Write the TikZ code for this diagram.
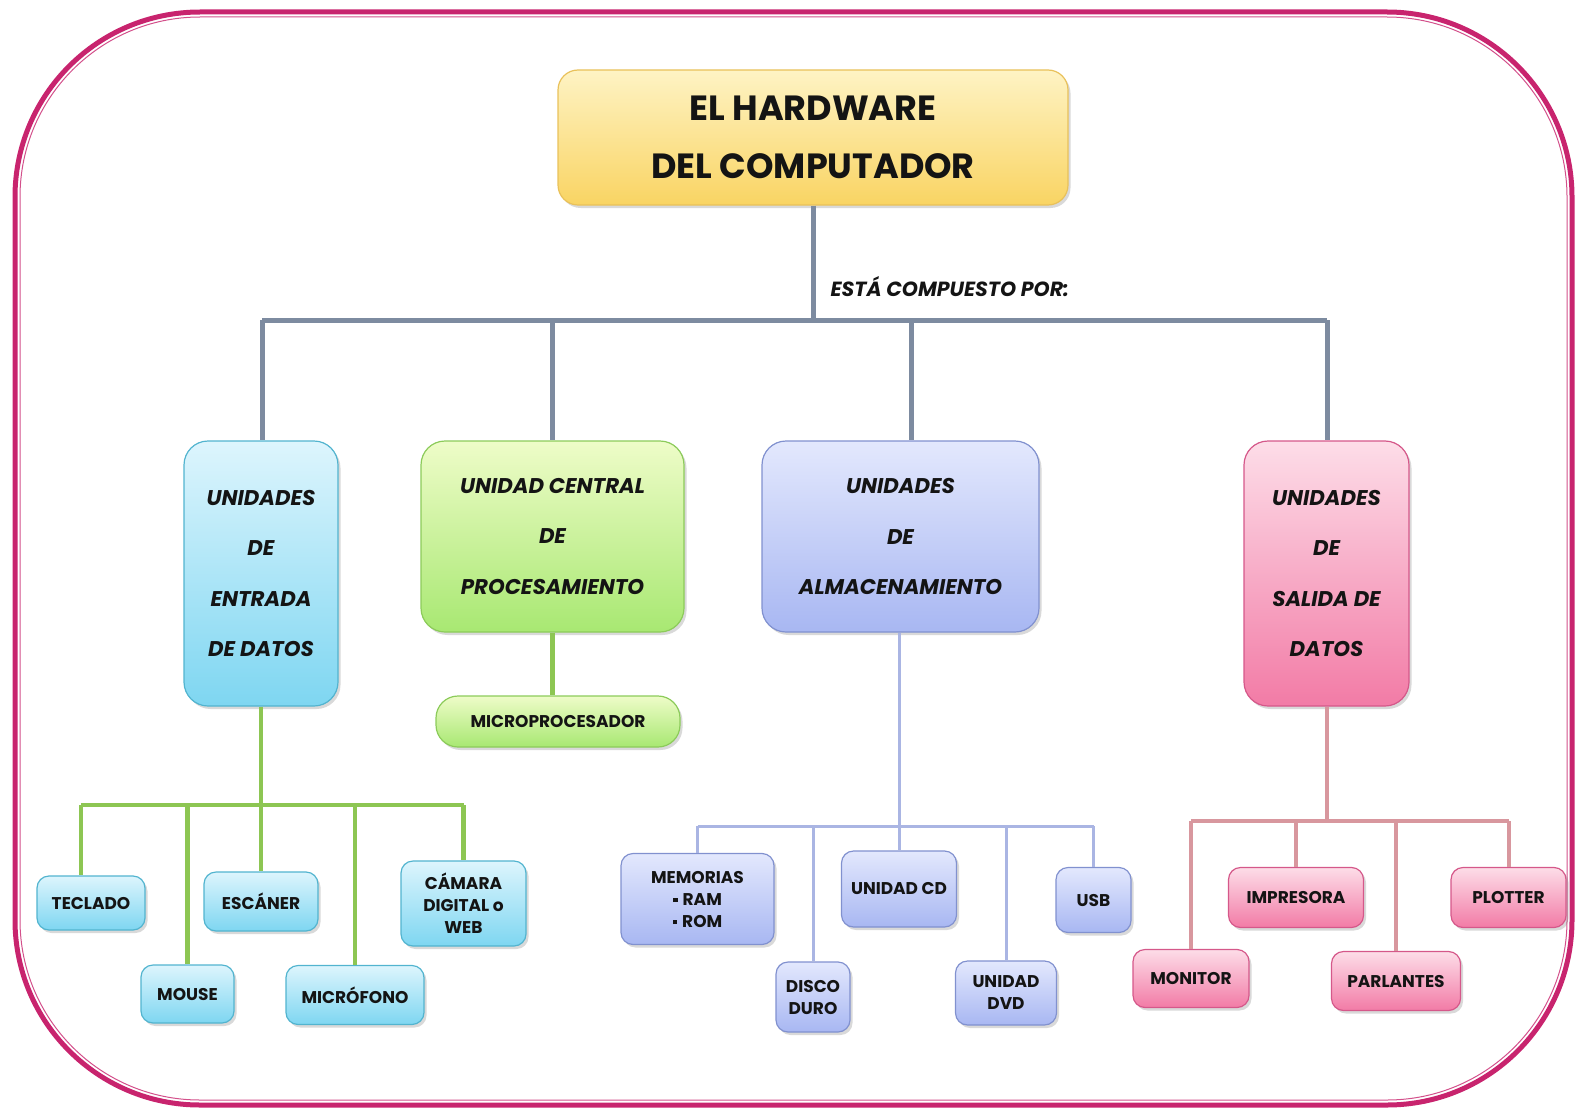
\documentclass[tikz,border=0pt]{standalone}
\usepackage{fontspec}
\setmainfont{Poppins}
\usetikzlibrary{shadows}
\definecolor{frameC}{HTML}{C8246E}
\definecolor{yelT}{HTML}{FEF3C4}
\definecolor{yelD}{HTML}{F9D463}
\definecolor{yelB}{HTML}{E9C15A}
\definecolor{cyaT}{HTML}{DDF5FD}
\definecolor{cyaD}{HTML}{7ED6F1}
\definecolor{cyaB}{HTML}{52B4CF}
\definecolor{greT}{HTML}{EEFCC8}
\definecolor{greD}{HTML}{A8E872}
\definecolor{greB}{HTML}{8CCB5A}
\definecolor{lavT}{HTML}{E3E8FD}
\definecolor{lavD}{HTML}{A8B7F2}
\definecolor{lavB}{HTML}{8191CF}
\definecolor{pinT}{HTML}{FDDDE8}
\definecolor{pinD}{HTML}{F27BA6}
\definecolor{pinB}{HTML}{D5588A}
\definecolor{grayL}{HTML}{7D8BA0}
\definecolor{greenL}{HTML}{8DC653}
\definecolor{lavL}{HTML}{AAB5E3}
\definecolor{pinkL}{HTML}{D8979E}
\tikzset{
  base/.style={rounded corners=12pt, line width=1.2pt, align=center, inner sep=0pt,
    font=\bfseries\fontsize{17}{22}\selectfont, text=black!92,
    drop shadow={shadow xshift=2.5pt, shadow yshift=-3pt, opacity=.3}},
  yelbox/.style={base, draw=yelB, top color=yelT, bottom color=yelD},
  cyabox/.style={base, draw=cyaB, top color=cyaT, bottom color=cyaD},
  grebox/.style={base, draw=greB, top color=greT, bottom color=greD},
  lavbox/.style={base, draw=lavB, top color=lavT, bottom color=lavD},
  pinbox/.style={base, draw=pinB, top color=pinT, bottom color=pinD},
  cat/.style={font=\bfseries\itshape\fontsize{21.3}{50.5}\selectfont, rounded corners=24pt},
  sz/.style 2 args={minimum width=#1pt, minimum height=#2pt},
  grayline/.style={draw=grayL, line width=5pt},
  greenline/.style={draw=greenL, line width=4.5pt},
  lavline/.style={draw=lavL, line width=3pt},
  pinkline/.style={draw=pinkL, line width=4pt},
}
\newcommand{\sqb}{\raisebox{3pt}{\rule{4.5pt}{4.5pt}}\hspace{5pt}}
\begin{document}
\begin{tikzpicture}[x=1pt,y=-1pt]
\useasboundingbox (0,0) rectangle (1578,1110);
% frame
\draw[frameC, line width=5pt, rounded corners=185pt] (15,12) rectangle (1572,1105);
\draw[frameC!80, line width=1pt, rounded corners=180pt] (20,17) rectangle (1567,1100);

% main nodes
\node[yelbox, sz={510}{135}, rounded corners=20pt, font=\bfseries\fontsize{35}{58}\selectfont] (top) at (813,137.5) {EL HARDWARE\\DEL COMPUTADOR};
\node[font=\bfseries\itshape\fontsize{20.5}{24}\selectfont, anchor=west, text=black!92] (lab) at (827,287) {ESTÁ COMPUESTO POR:};

\node[cyabox, cat, sz={154}{265}] (ent) at (261,573.5) {UNIDADES\\DE\\ENTRADA\\DE DATOS};
\node[grebox, cat, sz={263}{191}] (cpu) at (552.5,536.5) {UNIDAD CENTRAL\\DE\\PROCESAMIENTO};
\node[lavbox, cat, sz={277}{191}] (alm) at (900.5,536.5) {UNIDADES\\DE\\ALMACENAMIENTO};
\node[pinbox, cat, sz={165}{265}] (sal) at (1326.5,573.5) {UNIDADES\\DE\\SALIDA DE\\DATOS};

\node[grebox, sz={244}{51}, rounded corners=22pt, font=\bfseries\fontsize{17}{20}\selectfont] (mic0) at (558,721.5) {MICROPROCESADOR};

% input devices
\node[cyabox, sz={108}{54}] (tec) at (91,903) {TECLADO};
\node[cyabox, sz={93}{58}] (mou) at (187.5,994) {MOUSE};
\node[cyabox, sz={114}{59}] (esc) at (261,901.5) {ESCÁNER};
\node[cyabox, sz={138}{59}] (mic) at (355,995) {MICRÓFONO};
\node[cyabox, sz={125}{85}] (cam) at (463.5,903.5) {CÁMARA\\DIGITAL o\\WEB};

% storage devices
\node[lavbox, sz={153}{91}] (mem) at (697.5,899) {MEMORIAS\\\sqb RAM\\\sqb ROM};
\node[lavbox, sz={74}{70}] (dis) at (813,997) {DISCO\\DURO};
\node[lavbox, sz={115}{76}] (cd) at (899,889) {UNIDAD CD};
\node[lavbox, sz={101}{64}] (dvd) at (1006,993) {UNIDAD\\DVD};
\node[lavbox, sz={75}{65}] (usb) at (1093.5,900) {USB};

% output devices
\node[pinbox, sz={135}{60}] (imp) at (1296,897.5) {IMPRESORA};
\node[pinbox, sz={115}{60}] (plo) at (1508.5,897.5) {PLOTTER};
\node[pinbox, sz={116}{58}] (mon) at (1191,978.5) {MONITOR};
\node[pinbox, sz={129}{59}] (par) at (1396,981) {PARLANTES};

% top level connectors
\coordinate (busL) at (262,320);
\coordinate (busR) at (1327,320);
\coordinate (dA) at (911,320);
\draw[grayline] (top.south) -- (top.south |- busL);
\draw[grayline] (busL) -- (busR);
\draw[grayline] (busL) -- (busL |- ent.north);
\draw[grayline] (cpu.north |- busL) -- (cpu.north);
\draw[grayline] (dA) -- (dA |- alm.north);
\draw[grayline] (busR) -- (busR |- sal.north);

% cpu
\draw[greenline] (cpu.south) -- (mic0.north -| cpu.south);

% input tree
\coordinate (gL) at (81,805);
\coordinate (gR) at (463.5,805);
\draw[greenline] (ent.south) -- (ent.south |- gL);
\draw[greenline] (gL) -- (gR);
\draw[greenline] (gL) -- (gL |- tec.north);
\draw[greenline] (mou.north |- gL) -- (mou.north);
\draw[greenline] (esc.north |- gL) -- (esc.north);
\draw[greenline] (mic.north |- gL) -- (mic.north);
\draw[greenline] (gR) -- (cam.north);

% storage tree
\coordinate (sL) at (697.5,826);
\coordinate (sR) at (1093.5,826);
\draw[lavline] (alm.south -| cd.north) -- (cd.north);
\draw[lavline] (sL) -- (sR);
\draw[lavline] (sL) -- (mem.north);
\draw[lavline] (dis.north |- sL) -- (dis.north);
\draw[lavline] (dvd.north |- sL) -- (dvd.north);
\draw[lavline] (sR) -- (usb.north);

% output tree
\coordinate (oL) at (1191,821);
\coordinate (oR) at (1508.5,821);
\draw[pinkline] (sal.south) -- (sal.south |- oL);
\draw[pinkline] (oL) -- (oR);
\draw[pinkline] (oL) -- (mon.north);
\draw[pinkline] (imp.north |- oL) -- (imp.north);
\draw[pinkline] (par.north |- oL) -- (par.north);
\draw[pinkline] (oR) -- (plo.north);
\end{tikzpicture}
\end{document}
